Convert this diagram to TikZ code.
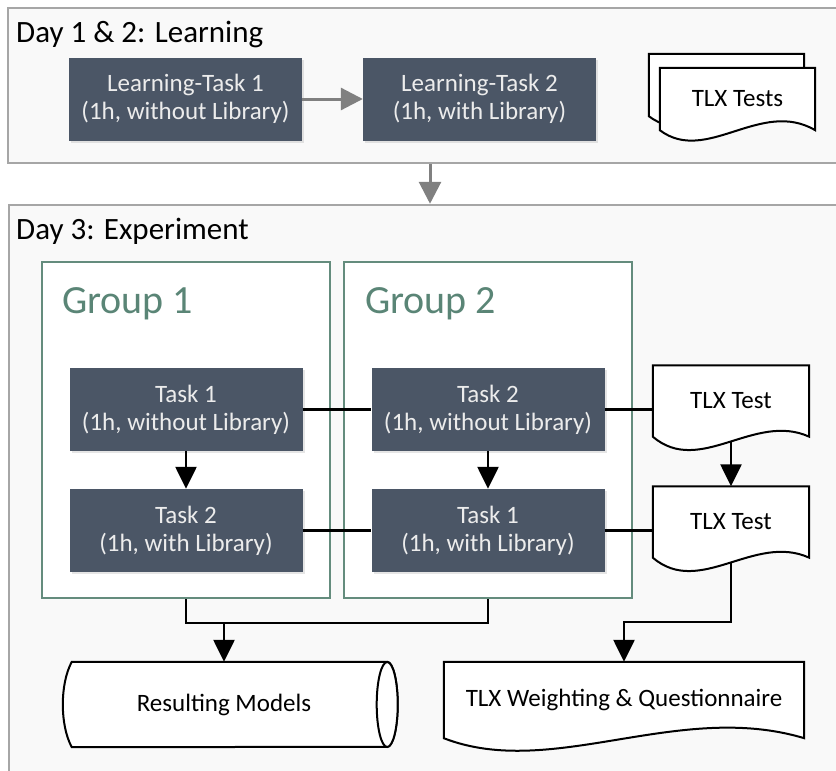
\documentclass[tikz,border=0pt]{standalone}
\usepackage{fontspec}
\setmainfont{Carlito}
\usetikzlibrary{arrows.meta,calc,shadows}
\pgfdeclarelayer{back}
\pgfdeclarelayer{background}
\pgfsetlayers{back,background,main}
\definecolor{taskfill}{RGB}{75,86,102}
\definecolor{tasktext}{RGB}{236,236,236}
\definecolor{groupline}{RGB}{100,140,125}
\definecolor{grouptext}{RGB}{90,133,118}
\definecolor{frameline}{RGB}{166,166,166}
\definecolor{framefill}{RGB}{249,249,249}
\newcommand{\docshape}[3]{%
    \draw[shapeline] (#1.south west) -- (#1.north west) -- (#1.north east) -- (#1.south east)
        .. controls ($(#1.south west)!0.65!(#1.south east)+(0,-#3)$) and ($(#1.south west)!0.3!(#1.south east)+(0,#2)$) .. (#1.south west) -- cycle;}
\begin{document}
\begin{tikzpicture}[x=1pt, y=-1pt,
        task/.style={fill=taskfill, text=tasktext, minimum width=233pt, minimum height=83pt, align=center, font=\fontsize{25}{28}\selectfont, drop shadow={shadow xshift=2pt, shadow yshift=-2pt, opacity=.2}},
        frame/.style={draw=frameline, line width=2.5pt, fill=framefill},
        group/.style={draw=groupline, line width=2pt, fill=white, minimum width=288pt, minimum height=336pt},
        doc/.style={minimum width=156pt, minimum height=71pt, align=center, font=\fontsize{25}{28}\selectfont},
        shapeline/.style={draw=black, line width=2pt, fill=white},
        link/.style={line width=2.2pt},
        arr/.style={line width=2.5pt, -{Triangle[width=21pt, length=22pt]}},
        grayarr/.style={draw=black!50, line width=3pt, -{Triangle[width=22pt, length=22pt]}},
        heading/.style={anchor=base west, inner sep=0pt, font=\fontsize{31}{36}\selectfont},
        grouphead/.style={anchor=base west, inner sep=0pt, text=grouptext, font=\fontsize{40}{46}\selectfont}]
        \useasboundingbox (0,0) rectangle (836,771);
        \begin{pgfonlayer}{back}
            \node[frame, minimum width=844pt, minimum height=155pt] (day12) at (430,85.5) {};
            \node[frame, minimum width=842pt, minimum height=595pt] (day3) at (430,502.5) {};
            \node[group] (g1) at (186,430) {};
            \node[group] (g2) at (488,430) {};
        \end{pgfonlayer}
        \node[heading] (title12) at (16,42) {Day 1 \& 2: Learning};
        \node[heading] (title3) at (16,239) {Day 3: Experiment};
        \node[grouphead] (gt1) at (62,313) {Group 1};
        \node[grouphead] (gt2) at (365,313) {Group 2};
        \node[task] (lt1) at (185.5,99) {Learning-Task 1\\(1h, without Library)};
        \node[task] (lt2) at (479.5,99) {Learning-Task 2\\(1h, with Library)};
        \node[task] (t11) at (186,409.5) {Task 1\\(1h, without Library)};
        \node[task] (t12) at (186,530.5) {Task 2\\(1h, with Library)};
        \node[task] (t22) at (488,409.5) {Task 2\\(1h, without Library)};
        \node[task] (t21) at (488,530.5) {Task 1\\(1h, with Library)};
        \node[doc, minimum width=155pt, minimum height=62pt] (tlxback) at (726.5,85) {};
        \node[doc, minimum width=155pt, minimum height=62pt] (tlxtests) at (737.5,99) {TLX Tests};
        \node[doc] (tlx1) at (731,401) {TLX Test};
        \node[doc] (tlx2) at (731,522) {TLX Test};
        \node[doc, minimum width=360pt, minimum height=76pt] (weight) at (624,700) {TLX Weighting \& Questionnaire};
        \node[minimum width=304pt, minimum height=85pt, font=\fontsize{25}{28}\selectfont] (models) at (224,704.5) {Resulting Models};
        \begin{pgfonlayer}{background}
            \docshape{tlxback}{35}{32}
            \docshape{tlxtests}{35}{32}
            \docshape{tlx1}{40}{25}
            \docshape{tlx2}{40}{25}
            \docshape{weight}{42}{38}
            \draw[shapeline] (models.north west) -- ($(models.north east)+(11,0)$) arc[start angle=-90, end angle=90, x radius=10.5, y radius=42.5] -- (models.south west) .. controls +(-12,-22) and +(-12,22) .. (models.north west) -- cycle;
            \draw[shapeline] ($(models.east)+(11,0)$) ellipse[x radius=10.5, y radius=42.5];
        \end{pgfonlayer}
        \draw[grayarr] (lt1) -- (lt2);
        \draw[grayarr] (day12.south) -- (day3.north);
        \draw[link] (t11) -- (t22);
        \draw[link] (t12) -- (t21);
        \draw[link] (t22.east) -- (t22.east -| tlx1.west);
        \draw[link] (t21.east) -- (t21.east -| tlx2.west);
        \draw[arr] (t11) -- (t12);
        \draw[arr] (t22) -- (t21);
        \draw[arr] ($(tlx1.south)+(0,5)$) -- (tlx2.north);
        \draw[arr] ($(tlx2.south)+(0,5)$) |- ($(weight.north)+(0,-40)$) -- (weight.north);
        \coordinate (mj) at (224,623);
        \draw[link] (g1.south) |- (mj) -| (g2.south);
        \draw[arr] (mj) -- (models.north);
\end{tikzpicture}
\end{document}
